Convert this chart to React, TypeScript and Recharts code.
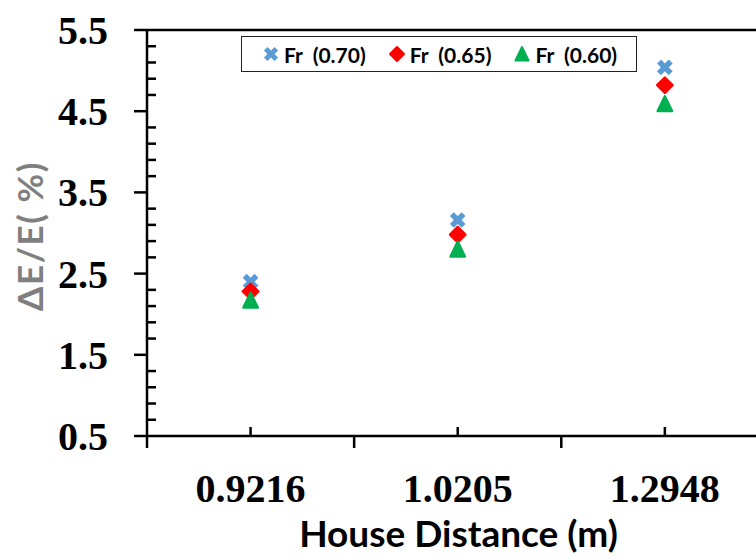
import React from 'react';
import { ScatterChart, Scatter, XAxis, YAxis, ReferenceLine, Legend, Label } from 'recharts';

const xCategories = ['0.9216', '1.0205', '1.2948'];
const xPositions = [1, 2, 3];
const seriesNames = ['Fr  (0.70)', 'Fr  (0.65)', 'Fr  (0.60)'];
const fr070 = [2.4, 3.16, 5.04];
const fr065 = [2.28, 2.98, 4.82];
const fr060 = [2.17, 2.8, 4.59];
const xTickValues = [0.5, 1, 1.5, 2, 2.5, 3];
const yMajorTicks = [0.5, 1.5, 2.5, 3.5, 4.5, 5.5];
const yMajorLabels = ['0.5', '1.5', '2.5', '3.5', '4.5', '5.5'];
const yTickValues = [0.5, 0.7, 0.9, 1.1, 1.3, 1.5, 1.7, 1.9, 2.1, 2.3, 2.5, 2.7, 2.9, 3.1, 3.3, 3.5, 3.7, 3.9, 4.1, 4.3, 4.5, 4.7, 4.9, 5.1, 5.3, 5.5];

const colors = ['#5b9bd5', '#ff0000', '#00b050'];

const data070 = xPositions.map((x, i) => ({ x, y: fr070[i] }));
const data065 = xPositions.map((x, i) => ({ x, y: fr065[i] }));
const data060 = xPositions.map((x, i) => ({ x, y: fr060[i] }));

const crossPath = (cx: number, cy: number, s: number, w: number) => {
  const pts = [
    [-w, -s], [w, -s], [w, -w], [s, -w], [s, w], [w, w], [w, s], [-w, s], [-w, w], [-s, w], [-s, -w], [-w, -w],
  ];
  const c = Math.SQRT1_2;
  return pts
    .map(([px, py], i) => `${i === 0 ? 'M' : 'L'}${cx + (px - py) * c},${cy + (px + py) * c}`)
    .join(' ') + ' Z';
};

const drawMarker = (kind: number, cx: number, cy: number, scale = 1) => {
  if (kind === 0) {
    return <path d={crossPath(cx, cy, 8.3 * scale, 2.8 * scale)} fill={colors[0]} />;
  }
  if (kind === 1) {
    const h = 7.7 * scale;
    return (
      <polygon
        points={`${cx},${cy - h} ${cx + h},${cy} ${cx},${cy + h} ${cx - h},${cy}`}
        fill={colors[1]}
        stroke={colors[1]}
        strokeWidth={2.4 * scale}
        strokeLinejoin="round"
      />
    );
  }
  const t = 7.2 * scale;
  return (
    <polygon
      points={`${cx},${cy - t - 0.4} ${cx + t},${cy + t} ${cx - t},${cy + t}`}
      fill={colors[2]}
      stroke={colors[2]}
      strokeWidth={2.4 * scale}
      strokeLinejoin="round"
    />
  );
};

const XTick = (props: any) => {
  const { x, y, payload } = props;
  const v = payload.value;
  const idx = xPositions.indexOf(v);
  if (idx >= 0) {
    return (
      <g>
        <line x1={x} x2={x} y1={y} y2={y - 9} stroke="#000" strokeWidth={2.5} />
        <text x={x} y={y + 66} textAnchor="middle" fontFamily="Liberation Serif" fontWeight="bold" fontSize={40} fill="#000">
          {xCategories[idx]}
        </text>
      </g>
    );
  }
  return <line x1={x} x2={x} y1={y} y2={y + 12} stroke="#000" strokeWidth={2.5} />;
};

const YTick = (props: any) => {
  const { x, y, payload } = props;
  const v = payload.value;
  const mi = yMajorTicks.findIndex((m) => Math.abs(m - v) < 1e-6);
  if (mi >= 0) {
    return (
      <g>
        <line x1={x - 13} x2={x} y1={y} y2={y} stroke="#000" strokeWidth={2.5} />
        <text x={x - 39} y={y} dy="0.35em" textAnchor="end" fontFamily="Liberation Serif" fontWeight="bold" fontSize={40} fill="#000">
          {yMajorLabels[mi]}
        </text>
      </g>
    );
  }
  return <line x1={x} x2={x + 9} y1={y} y2={y} stroke="#000" strokeWidth={2.5} />;
};

const shapeFor = (kind: number) => (p: any) => <g>{drawMarker(kind, p.cx, p.cy)}</g>;

const LegendBox = () => (
  <div
    style={{
      boxSizing: 'border-box',
      width: 396,
      height: 36,
      border: '1.5px solid #222',
      background: '#fff',
      display: 'flex',
      alignItems: 'center',
      justifyContent: 'flex-start',
      paddingLeft: 20,
      gap: 22,
      fontFamily: 'Lato',
      fontWeight: 700,
      fontSize: 21,
      color: '#000',
    }}
  >
    {seriesNames.map((n, i) => (
      <div key={n} style={{ display: 'flex', alignItems: 'center', gap: 4 }}>
        <svg width={18} height={18}>
          {drawMarker(i, 9, 9, 0.9)}
        </svg>
        <span style={{ whiteSpace: 'pre' }}>{n}</span>
      </div>
    ))}
  </div>
);

export default function App() {
  return (
    <div style={{ position: 'absolute', left: 0, top: 0, width: 756, height: 558, background: '#fff' }}>
      <ScatterChart width={756} height={558} margin={{ top: 30, right: 0, bottom: 0, left: 0 }}>
        <XAxis
          type="number"
          dataKey="x"
          domain={[0.5, 3.44]}
          ticks={xTickValues}
          interval={0}
          tick={XTick}
          tickLine={false}
          tickSize={0}
          tickMargin={0}
          allowDataOverflow
          axisLine={{ stroke: '#000', strokeWidth: 2.5 }}
          height={122}
        >
          <Label
            content={(p: any) => {
              const vb = p.viewBox;
              return (
                <text
                  x={vb.x + vb.width / 2 + 7}
                  y={vb.y + 111}
                  textAnchor="middle"
                  fontFamily="Lato"
                  fontWeight="bold"
                  fontSize={37}
                  fill="#000"
                >
                  House Distance (m)
                </text>
              );
            }}
          />
        </XAxis>
        <YAxis
          type="number"
          dataKey="y"
          domain={[0.5, 5.5]}
          ticks={yTickValues}
          interval={0}
          tick={YTick}
          tickLine={false}
          tickSize={0}
          tickMargin={0}
          allowDataOverflow
          axisLine={{ stroke: '#000', strokeWidth: 2.5 }}
          width={147}
        >
          <Label
            content={(p: any) => {
              const vb = p.viewBox;
              const cx = vb.x + 29;
              const cy = vb.y + vb.height / 2 + 3;
              return (
                <text
                  x={cx}
                  y={cy}
                  transform={`rotate(-90 ${cx} ${cy})`}
                  textAnchor="middle"
                  dominantBaseline="central"
                  fontFamily="Lato"
                  fontWeight="bold"
                  fontSize={35}
                  letterSpacing={1.6}
                  fill="#7f7f7f"
                >
                  ΔE/E( %)
                </text>
              );
            }}
          />
        </YAxis>
        <ReferenceLine y={5.5} stroke="#000" strokeWidth={2.5} />
        <Legend
          layout="horizontal"
          verticalAlign="middle"
          align="center"
          wrapperStyle={{ top: 36, left: 241, width: 396, height: 36 }}
          content={() => <LegendBox />}
        />
        <Scatter name={seriesNames[0]} data={data070} fill={colors[0]} shape={shapeFor(0)} isAnimationActive={false} />
        <Scatter name={seriesNames[1]} data={data065} fill={colors[1]} shape={shapeFor(1)} isAnimationActive={false} />
        <Scatter name={seriesNames[2]} data={data060} fill={colors[2]} shape={shapeFor(2)} isAnimationActive={false} />
      </ScatterChart>
    </div>
  );
}
